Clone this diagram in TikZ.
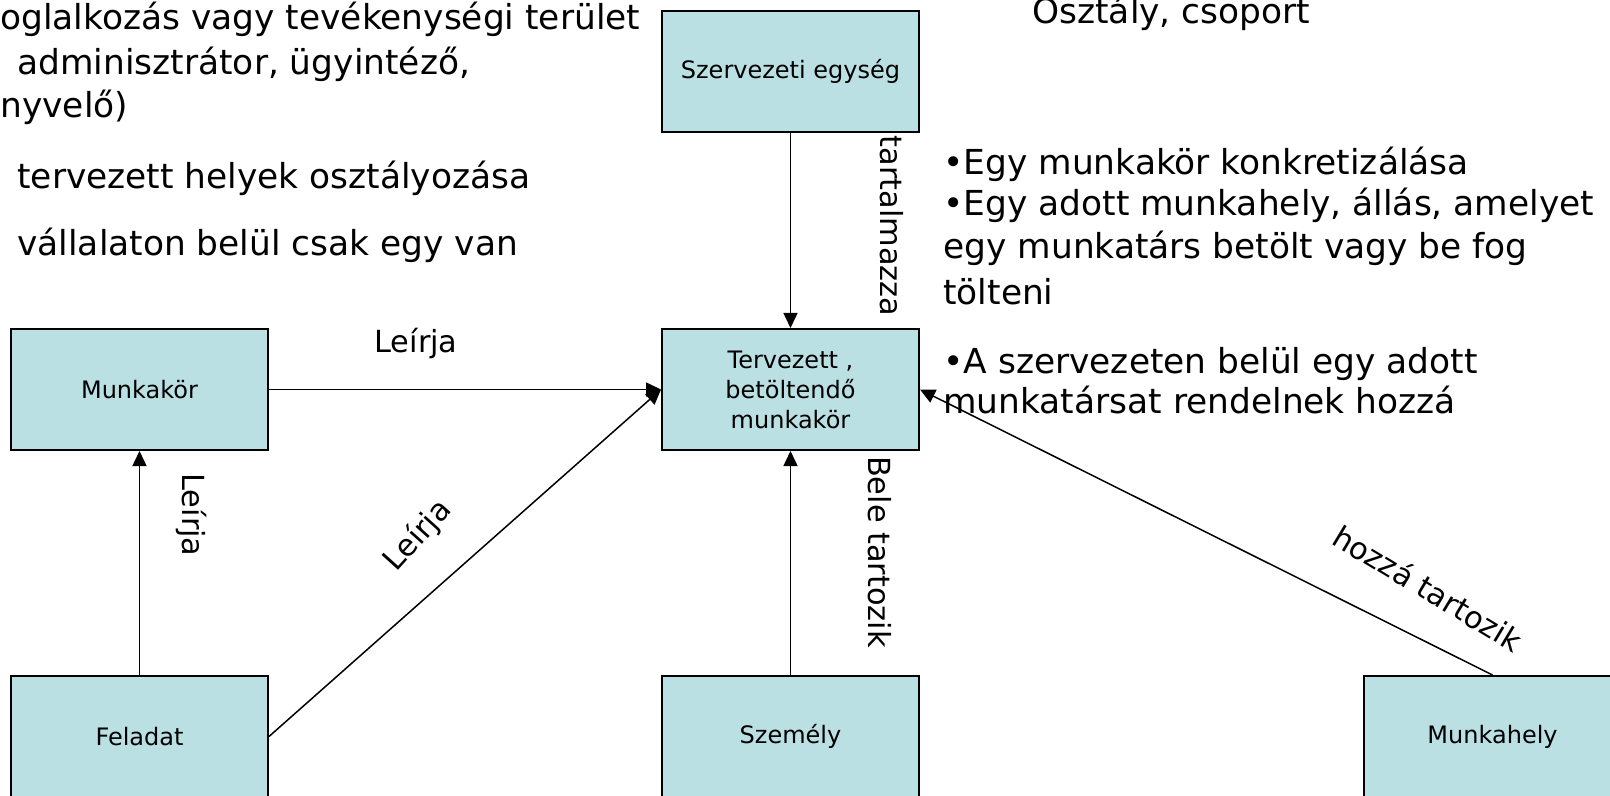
\documentclass[tikz,border=0pt]{standalone}
\usepackage{fontspec}
\setmainfont{DejaVu Sans}
\usetikzlibrary{arrows.meta}
\definecolor{boxfill}{RGB}{187,224,227}

\tikzset{
  box/.style={draw, line width=1pt, fill=boxfill, minimum width=128.5pt,
    minimum height=60.5pt, align=center, inner sep=0pt,
    font=\fontsize{12}{15}\selectfont},
  arr/.style={line width=0.75pt, -{Triangle[length=7.5pt,width=7pt]}},
  lbl/.style={inner sep=0pt, font=\fontsize{15.2}{18}\selectfont},
  txt/.style={anchor=base west, inner sep=0pt, font=\fontsize{17.2}{22}\selectfont},
}

\begin{document}
\begin{tikzpicture}[x=0.5pt, y=-0.5pt]
		\clip (0,0) rectangle (1610,796);
		\fill[white] (0,0) rectangle (1610,796);
		%boxes
		\node[box] (szerv) at (790.5,71.5) {Szervezeti egység};
		\node[box] (terv) at (790.5,389.5) {Tervezett ,\\betöltendő\\munkakör};
		\node[box] (munkakor) at (139.5,389.5) {Munkakör};
		\node[box] (feladat) at (139.5,736.5) {Feladat};
		\node[box] (szemely) at (790.5,736.5) {Személy};
		\node[box] (munkahely) at (1492.5,736.5) {Munkahely};
		%connectors
		\draw[arr] (szerv.south) -- (terv.north);
		\draw[arr] (munkakor.east) -- (terv.west);
		\draw[arr] (feladat.east) -- (terv.west);
		\draw[arr] (feladat.north) -- (munkakor.south);
		\draw[arr] (szemely.north) -- (terv.south);
		\draw[arr] (munkahely.north) -- (terv.east);
		%labels
		\node[lbl, rotate=-90] (l-tart) at (892,226) {tartalmazza};
		\node[lbl] (l-leir1) at (416,344) {Leírja};
		\node[lbl, rotate=-90] (l-leir2) at (191,515) {Leírja};
		\node[lbl, rotate=48] (l-leir3) at (418,536) {Leírja};
		\node[lbl, rotate=-90] (l-bele) at (880,552) {Bele tartozik};
		\node[lbl, rotate=-31] (l-hozza) at (1428,588) {hozzá tartozik};
		%left text
		\node[txt] (bal1) at (0,30) {oglalkozás vagy tevékenységi terület};
		\node[txt] (bal2) at (17,75) {adminisztrátor, ügyintéző,};
		\node[txt] (bal3) at (0,118) {nyvelő)};
		\node[txt] (bal4) at (17,189) {tervezett helyek osztályozása};
		\node[txt] (bal5) at (17,256) {vállalaton belül csak egy van};
		%right text
		\node[txt] (jobb0) at (1032,24) {Osztály, csoport};
		\node[txt] (jobb1) at (943,175) {•Egy munkakör konkretizálása};
		\node[txt] (jobb2) at (943,216) {•Egy adott munkahely, állás, amelyet};
		\node[txt] (jobb3) at (943,259) {egy munkatárs betölt vagy be fog};
		\node[txt] (jobb4) at (943,305) {tölteni};
		\node[txt] (jobb5) at (943,373) {•A szervezeten belül egy adott};
		\node[txt] (jobb6) at (943,413) {munkatársat rendelnek hozzá};
\end{tikzpicture}
\end{document}
